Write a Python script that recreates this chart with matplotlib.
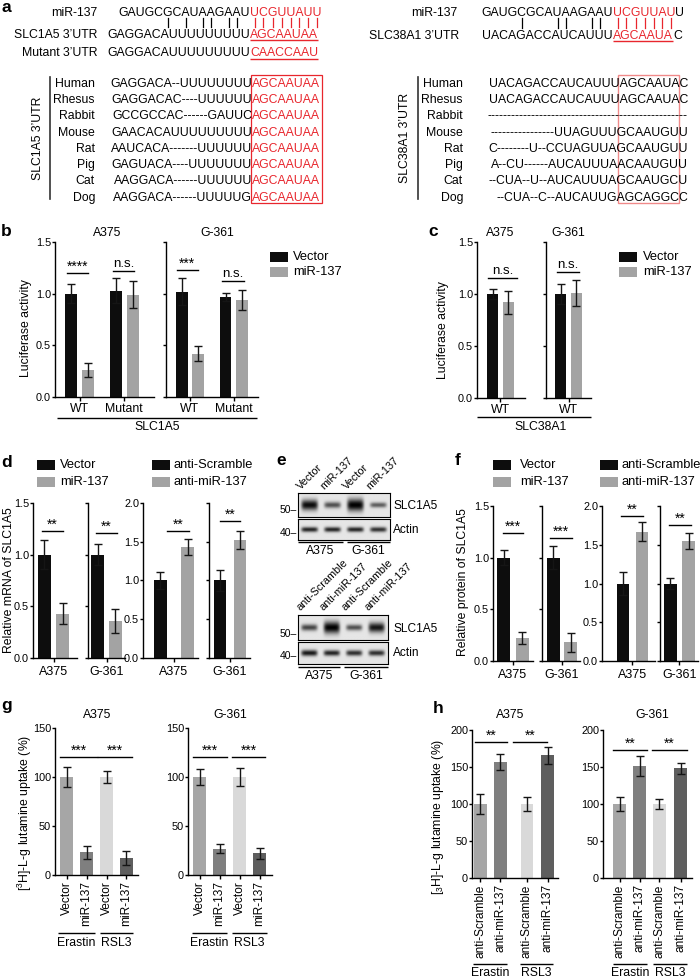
import numpy as np
import matplotlib
matplotlib.use('Agg')
import matplotlib.pyplot as plt
from matplotlib.font_manager import FontProperties
from matplotlib.patches import Rectangle

plt.rcParams['font.family'] = ['Liberation Sans', 'DejaVu Sans']
plt.rcParams['mathtext.default'] = 'regular'
plt.rcParams['axes.linewidth'] = 1.0
plt.rcParams['xtick.major.width'] = 1.0
plt.rcParams['ytick.major.width'] = 1.0
plt.rcParams['xtick.major.size'] = 3
plt.rcParams['ytick.major.size'] = 2
plt.rcParams['xtick.major.pad'] = 1.5
plt.rcParams['ytick.major.pad'] = 0.8

BLACK = '#0d0d0d'
GRAY = '#a3a3a3'
RED = '#e8262d'
BOX2 = '#f08a8a'
G_COLORS = ['#a6a6a6', '#7f7f7f', '#d9d9d9', '#5e5e5e']

# ---------------- data ----------------
# a: sequences
mir_5p = 'GAUGCGCAUAAGAAU'
mir_seed_1a5 = 'UCGUUAUU'
utr_1a5 = 'GAGGACAUUUUUUUUU'
site_1a5 = 'AGCAAUAA'
utr_mut = 'GAGGACAUUUUUUUUU'
site_mut = 'CAACCAAU'
pair_idx_1a5 = [5, 7, 9, 10, 12, 13]
mir_seed_38a1 = 'UCGUUAU'
mir_tail_38a1 = 'U'
utr_38a1 = 'UACAGACCAUCAUUU'
site_38a1 = 'AGCAAUA'
tail_38a1 = 'C'
pair_idx_38a1 = [4, 8, 9, 12, 13]
species = ['Human', 'Rhesus', 'Rabbit', 'Mouse', 'Rat', 'Pig', 'Cat', 'Dog']
align_1a5 = ['GAGGACA--UUUUUUUU', 'GAGGACAC----UUUUUU', 'GCCGCCAC------GAUUC',
             'GAACACAUUUUUUUUU', 'AAUCACA-------UUUUUU', 'GAGUACA----UUUUUUU',
             'AAGGACA------UUUUUU', 'AAGGACA------UUUUUG']
align_38a1 = ['UACAGACCAUCAUUUAGCAAUAC', 'UACAGACCAUCAUUUAGCAAUAC', '-' * 50,
              '----------------UUAGUUUGCAAUGUU', 'C--------U--CCUAGUUAGCAAUGUU',
              'A--CU------AUCAUUUAACAAUGUU', '--CUA--U--AUCAUUUAGCAAUGCU',
              '--CUA--C--AUCAUUGAGCAGGCC']

# b: luciferase, SLC1A5 3'UTR
b_groups = ['WT', 'Mutant']
b_a375_vec = [1.00, 1.03]
b_a375_vec_err = [0.09, 0.12]
b_a375_mir = [0.26, 0.99]
b_a375_mir_err = [0.07, 0.13]
b_g361_vec = [1.02, 0.97]
b_g361_vec_err = [0.13, 0.04]
b_g361_mir = [0.42, 0.94]
b_g361_mir_err = [0.07, 0.10]

# c: luciferase, SLC38A1 3'UTR
c_groups = ['WT']
c_a375_vec, c_a375_vec_err = [1.00], [0.045]
c_a375_mir, c_a375_mir_err = [0.92], [0.11]
c_g361_vec, c_g361_vec_err = [1.00], [0.10]
c_g361_mir, c_g361_mir_err = [1.01], [0.125]

# d: mRNA
cells = ['A375', 'G-361']
d_vec, d_vec_err = [1.0, 1.0], [0.14, 0.10]
d_mir, d_mir_err = [0.43, 0.36], [0.10, 0.115]
d_scr, d_scr_err = [1.0, 1.0], [0.11, 0.13]
d_anti, d_anti_err = [1.43, 1.52], [0.105, 0.115]

# e: western blots (band intensity, band thickness)
e_lanes_top = ['Vector', 'miR-137', 'Vector', 'miR-137']
e_lanes_bot = ['anti-Scramble', 'anti-miR-137', 'anti-Scramble', 'anti-miR-137']
e_top_slc = [0.95, 0.65, 1.0, 0.6]
e_top_slc_w = [0.22, 0.13, 0.26, 0.11]
e_top_act = [0.85, 0.85, 0.85, 0.8]
e_top_act_w = [0.12, 0.12, 0.12, 0.12]
e_bot_slc = [0.7, 1.0, 0.65, 0.9]
e_bot_slc_w = [0.13, 0.24, 0.12, 0.2]
e_bot_act = [0.9, 0.85, 0.8, 0.8]
e_bot_act_w = [0.14, 0.13, 0.13, 0.13]

# f: protein
f_vec, f_vec_err = [1.0, 1.0], [0.075, 0.11]
f_mir, f_mir_err = [0.22, 0.18], [0.06, 0.09]
f_scr, f_scr_err = [1.0, 1.0], [0.15, 0.07]
f_anti, f_anti_err = [1.67, 1.55], [0.12, 0.10]

# g / h: glutamine uptake
treatments = ['Erastin', 'RSL3']
g_labels = ['Vector', 'miR-137', 'Vector', 'miR-137']
g_a375, g_a375_err = [100, 23, 100, 17.5], [10, 7, 6, 7]
g_g361, g_g361_err = [100, 27, 100, 22], [8, 5, 9.5, 6]
h_labels = ['anti-Scramble', 'anti-miR-137', 'anti-Scramble', 'anti-miR-137']
h_a375, h_a375_err = [100, 157, 100, 166], [13, 10.5, 10, 11.5]
h_g361, h_g361_err = [100, 151, 100, 148], [10, 13.5, 7, 8]

# ---------------- figure ----------------
W, H = 700, 980
fig = plt.figure(figsize=(W / 100, H / 100), dpi=100)


def px_axes(x0, y0, x1, y1):
    return fig.add_axes([x0 / W, 1 - y1 / H, (x1 - x0) / W, (y1 - y0) / H])


def style(ax, ylim, yticks, fmt, labels=True):
    ax.spines[['top', 'right']].set_visible(False)
    ax.set_ylim(*ylim)
    ax.set_yticks(yticks)
    ax.set_yticklabels([fmt.format(t) for t in yticks] if labels else [], fontsize=7.8)
    ax.patch.set_alpha(0)


def bars(ax, x, vals, errs, color, width):
    ax.bar(x, vals, width=width, color=color, edgecolor='none')
    ax.errorbar(x, vals, yerr=errs, fmt='none', ecolor='#151515',
                elinewidth=1, capsize=3, capthick=1)


def sig(ax, x0, x1, y, s):
    fs = 9.5 if s == 'n.s.' else 10
    dy = 1 if s == 'n.s.' else -0.5
    ax.plot([x0, x1], [y, y], color='k', lw=1, clip_on=False)
    ax.annotate(s, ((x0 + x1) / 2, y), xytext=(0, dy), textcoords='offset points',
                ha='center', va='bottom', fontsize=fs, annotation_clip=False)


def pair_axes(box, ylim, yticks, fmt, vals1, err1, vals2, err2, c2, xlim,
              off, width, tick_labels, show_y=True, tickfs=8.8, pad=1.5):
    ax = px_axes(*box)
    style(ax, ylim, yticks, fmt, show_y)
    x = np.arange(len(vals1))
    bars(ax, x - off, vals1, err1, BLACK, width)
    bars(ax, x + off, vals2, err2, c2, width)
    ax.set_xlim(*xlim)
    ax.set_xticks(x)
    ax.set_xticklabels(tick_labels, fontsize=tickfs)
    ax.tick_params(axis='x', pad=pad)
    return ax


def quad_axes(box, ylim, yticks, vals, errs, pos, xlim, labels):
    ax = px_axes(*box)
    style(ax, ylim, yticks, '{:.0f}')
    ax.bar(pos, vals, width=0.64, color=G_COLORS, edgecolor='none')
    ax.errorbar(pos, vals, yerr=errs, fmt='none', ecolor='#151515',
                elinewidth=1, capsize=3, capthick=1)
    ax.set_xlim(*xlim)
    ax.set_xticks(pos)
    ax.set_xticklabels(labels, rotation=90, fontsize=8.6)
    ax.tick_params(axis='x', pad=1.5)
    return ax


def blot(box, levels, widths):
    ax = px_axes(*box)
    n = len(levels)
    xs = np.linspace(0, n, 240)
    ys = np.linspace(-0.5, 0.5, 60)[:, None]
    img = np.full((60, 240), 0.9)
    for i, (a, w) in enumerate(zip(levels, widths)):
        px = np.exp(-((xs - (i + 0.5)) / 0.36) ** 6)
        py = np.exp(-(ys / w) ** 2)
        img = img - 0.9 * a * px * py
    ax.imshow(np.clip(img, 0, 1), cmap='gray', vmin=0, vmax=1, aspect='auto',
              extent=(0, n, 0, 1), interpolation='bilinear')
    ax.set_xticks([])
    ax.set_yticks([])
    for s in ax.spines.values():
        s.set_linewidth(0.8)
    return ax


# ---- b ----
ax = pair_axes((55, 242, 154, 397), (0, 1.5), [0, 0.5, 1.0, 1.5], '{:.1f}',
               b_a375_vec, b_a375_vec_err, b_a375_mir, b_a375_mir_err, GRAY,
               (-0.55, 1.67), 0.19, 0.27, b_groups)
sig(ax, -0.28, 0.19, 1.2, '****')
sig(ax, 0.75, 1.22, 1.22, 'n.s.')
ax = pair_axes((166, 242, 258, 397), (0, 1.5), [0, 0.5, 1.0, 1.5], '{:.1f}',
               b_g361_vec, b_g361_vec_err, b_g361_mir, b_g361_mir_err, GRAY,
               (-0.545, 1.55), 0.19, 0.27, b_groups, show_y=False)
sig(ax, -0.3, 0.18, 1.23, '***')
sig(ax, 0.73, 1.23, 1.12, 'n.s.')

# ---- c ----
ax = pair_axes((477, 242, 525, 398), (0, 1.5), [0, 0.5, 1.0, 1.5], '{:.1f}',
               c_a375_vec, c_a375_vec_err, c_a375_mir, c_a375_mir_err, GRAY,
               (-0.534, 0.557), 0.18, 0.25, c_groups)
sig(ax, -0.28, 0.37, 1.15, 'n.s.')
ax = pair_axes((546, 242, 591, 398), (0, 1.5), [0, 0.5, 1.0, 1.5], '{:.1f}',
               c_g361_vec, c_g361_vec_err, c_g361_mir, c_g361_mir_err, GRAY,
               (-0.51, 0.51), 0.18, 0.25, c_groups, show_y=False)
sig(ax, -0.26, 0.24, 1.21, 'n.s.')

# ---- d ----
d_boxes = [(33, 503, 77, 658), (88, 503, 125, 658), (143, 503, 198, 658), (209, 503, 250, 658)]
d_xlims = [(-0.466, 0.534), (-0.42, 0.42), (-0.705, 0.545), (-0.48, 0.455)]
d_offs = [0.205, 0.2, 0.31, 0.23]
d_sigs = [(-0.26, 0.216, 1.23), (-0.24, 0.24, 1.21), (-0.16, 0.34, 1.64), (-0.23, 0.23, 1.77)]
for i in range(4):
    if i < 2:
        ylim, yt = (0, 1.5), [0, 0.5, 1.0, 1.5]
        v1, e1, v2, e2 = [d_vec[i]], [d_vec_err[i]], [d_mir[i]], [d_mir_err[i]]
    else:
        ylim, yt = (0, 2.0), [0, 0.5, 1.0, 1.5, 2.0]
        j = i - 2
        v1, e1, v2, e2 = [d_scr[j]], [d_scr_err[j]], [d_anti[j]], [d_anti_err[j]]
    ax = pair_axes(d_boxes[i], ylim, yt, '{:.1f}', v1, e1, v2, e2, GRAY,
                   d_xlims[i], d_offs[i], 0.29, [cells[i % 2]],
                   show_y=(i % 2 == 0), tickfs=9, pad=3)
    sig(ax, d_sigs[i][0], d_sigs[i][1], d_sigs[i][2], '**')

# ---- f ----
f_boxes = [(493, 506, 533, 661), (542, 506, 580, 661), (602, 506, 655, 661), (660, 506, 698, 661)]
f_xlims = [(-0.455, 0.455), (-0.455, 0.41), (-0.69, 0.51), (-0.44, 0.42)]
f_offs = [0.216, 0.2, 0.216, 0.205]
f_sigs = [(-0.23, 0.23, 1.24, '***'), (-0.27, 0.23, 1.19, '***'),
          (-0.26, 0.24, 1.87, '**'), (-0.24, 0.26, 1.75, '**')]
for i in range(4):
    if i < 2:
        ylim, yt = (0, 1.5), [0, 0.5, 1.0, 1.5]
        v1, e1, v2, e2 = [f_vec[i]], [f_vec_err[i]], [f_mir[i]], [f_mir_err[i]]
    else:
        ylim, yt = (0, 2.0), [0, 0.5, 1.0, 1.5, 2.0]
        j = i - 2
        v1, e1, v2, e2 = [f_scr[j]], [f_scr_err[j]], [f_anti[j]], [f_anti_err[j]]
    ax = pair_axes(f_boxes[i], ylim, yt, '{:.1f}', v1, e1, v2, e2, GRAY,
                   f_xlims[i], f_offs[i], 0.29, [cells[i % 2]],
                   show_y=(i % 2 == 0), tickfs=9, pad=3)
    sig(ax, f_sigs[i][0], f_sigs[i][1], f_sigs[i][2], f_sigs[i][3])

# ---- g ----
ax = quad_axes((55, 728, 138, 875), (0, 150), [0, 50, 100, 150], g_a375, g_a375_err,
               [0, 1, 2, 3], (-0.575, 3.575), g_labels)
sig(ax, -0.325, 1.525, 120, '***')
sig(ax, 1.575, 3.275, 120, '***')
ax = quad_axes((188, 728, 272, 875), (0, 150), [0, 50, 100, 150], g_g361, g_g361_err,
               [0, 1, 2, 3], (-0.575, 3.625), g_labels)
sig(ax, -0.325, 1.375, 120, '***')
sig(ax, 1.625, 3.275, 120, '***')

# ---- h ----
ax = quad_axes((472, 730, 558, 878), (0, 200), [0, 50, 100, 150, 200], h_a375, h_a375_err,
               [0, 1, 2.33, 3.37], (-0.415, 3.885), h_labels)
sig(ax, -0.265, 1.335, 184, '**')
sig(ax, 1.635, 3.335, 184, '**')
ax = quad_axes((603, 730, 692, 878), (0, 200), [0, 50, 100, 150, 200], h_g361, h_g361_err,
               [0, 1, 1.98, 3.05], (-0.835, 3.615), h_labels)
sig(ax, -0.335, 1.365, 173, '**')
sig(ax, 1.615, 3.365, 173, '**')

# ---- e blots ----
blot((298, 493, 390, 517), e_top_slc, e_top_slc_w)
blot((298, 519, 390, 540), e_top_act, e_top_act_w)
blot((298, 615, 388, 640), e_bot_slc, e_bot_slc_w)
blot((298, 642, 388, 664), e_bot_act, e_bot_act_w)

# ---------------- overlay in pixel coordinates ----------------
ov = fig.add_axes([0, 0, 1, 1], zorder=10)
ov.set_xlim(0, W)
ov.set_ylim(H, 0)
ov.axis('off')


def txt(x, y, s, fs=8.8, ha='center', va='center', **kw):
    ov.text(x, y, s, fontsize=fs, ha=ha, va=va, **kw)


def hline(x0, x1, y, color='k', lw=1.0):
    ov.plot([x0, x1], [y, y], color=color, lw=lw, solid_capstyle='butt')


for lab, x, y in [('a', 1, 7), ('b', 1, 231), ('c', 428, 231), ('d', 1, 462),
                  ('e', 276, 460), ('f', 455, 460), ('g', 1, 705), ('h', 433, 708)]:
    txt(x, y, lab, fs=12.5, ha='left', weight='bold')

# panel a
fs_seq = 8.8
prop = FontProperties(family='Liberation Sans', size=fs_seq)
rend = fig.canvas.get_renderer()


def tw(s):
    if not s:
        return 0.0
    return rend.get_text_width_height_descent(s, prop, ismath=False)[0]


def seq(x, y, s, color='k', ha='left'):
    ov.text(x, y, s, fontsize=fs_seq, color=color, ha=ha, va='baseline')


def pair_bars(xr, black, red, idx, y0, y1):
    for k in idx:
        xc = xr - tw(black[k:]) + tw(black[k]) / 2
        ov.plot([xc, xc], [y0, y1], color='k', lw=0.9)
    for k in range(len(red)):
        xc = xr + tw(red[:k]) + tw(red[k]) / 2
        ov.plot([xc, xc], [y0, y1], color=RED, lw=0.9)


xr = 250
seq(97, 16.5, 'miR-137', ha='right')
seq(xr, 16.5, mir_5p, ha='right')
seq(xr, 16.5, mir_seed_1a5, RED)
pair_bars(xr, mir_5p, mir_seed_1a5, pair_idx_1a5, 18.5, 27.5)
seq(97, 37.5, 'SLC1A5 3\u2019UTR', ha='right')
seq(xr, 37.5, utr_1a5, ha='right')
seq(xr, 37.5, site_1a5, RED)
hline(xr, xr + tw(site_1a5), 39.8, RED)
seq(97, 56.5, 'Mutant 3\u2019UTR', ha='right')
seq(xr, 56.5, utr_mut, ha='right')
seq(xr, 56.5, site_mut, RED)
hline(xr, xr + tw(site_mut), 58.8, RED)

row0, drow = 86.7, 16.3
xb = 252
for i, (sp, s) in enumerate(zip(species, align_1a5)):
    yb = row0 + i * drow
    seq(95, yb, sp, ha='right')
    seq(xb, yb, s, ha='right')
    seq(xb, yb, site_1a5, RED)
ov.add_patch(Rectangle((xb - 1, 75), tw(site_1a5) + 3, 128, fill=False, ec=RED, lw=0.9))
ov.plot([50, 50], [77, 199], color='#333333', lw=1.2)
txt(38, 138, 'SLC1A5 3\u2019UTR', rotation=90)

xr2 = 613
seq(457, 16.5, 'miR-137', ha='right')
seq(xr2, 16.5, mir_5p, ha='right')
seq(xr2, 16.5, mir_seed_38a1, RED)
seq(xr2 + tw(mir_seed_38a1), 16.5, mir_tail_38a1)
pair_bars(xr2, mir_5p, mir_seed_38a1, pair_idx_38a1, 18.5, 28)
seq(459, 39.2, 'SLC38A1 3\u2019UTR', ha='right')
seq(xr2, 39.2, utr_38a1, ha='right')
seq(xr2, 39.2, site_38a1, RED)
seq(xr2 + tw(site_38a1), 39.2, tail_38a1)
hline(xr2, xr2 + tw(site_38a1), 41.5, RED)

for i, (sp, s) in enumerate(zip(species, align_38a1)):
    yb = row0 + i * drow
    seq(463, yb, sp, ha='right')
    seq(688, yb, s, ha='right')
ov.add_patch(Rectangle((618, 75), 61, 128, fill=False, ec=BOX2, lw=1.0))
ov.plot([418, 418], [77, 199], color='#333333', lw=1.2)
txt(405, 138, 'SLC38A1 3\u2019UTR', rotation=90)

# titles
for x, y, s in [(107, 233, 'A375'), (217, 233, 'G-361'), (500, 233, 'A375'), (568, 233, 'G-361'),
                (97, 715, 'A375'), (230, 715, 'G-361'), (510, 715, 'A375'), (652, 715, 'G-361')]:
    txt(x, y, s)

# y labels
txt(26, 328, 'Luciferase activity', rotation=90)
txt(443, 330, 'Luciferase activity', rotation=90)
txt(9, 580, 'Relative mRNA of SLC1A5', rotation=90)
txt(463, 582, 'Relative protein of SLC1A5', rotation=90)
txt(25, 813, '[$^{3}$H]-L-g lutamine uptake (%)', rotation=90)
txt(438, 817, '[$_{3}$H]-L-g lutamine uptake (%)', rotation=90)

# legends
def legend_px(x, tx, ys, labels, colors):
    for y, lab, c in zip(ys, labels, colors):
        ov.add_patch(Rectangle((x, y - 5), 18, 10, color=c, lw=0))
        txt(tx, y, lab, fs=9.3, ha='left')


legend_px(270, 293, [256.5, 272], ['Vector', 'miR-137'], [BLACK, GRAY])
legend_px(619, 643, [256.5, 272], ['Vector', 'miR-137'], [BLACK, GRAY])
legend_px(37, 60, [465, 482], ['Vector', 'miR-137'], [BLACK, GRAY])
legend_px(152, 173, [465, 482], ['anti-Scramble', 'anti-miR-137'], [BLACK, GRAY])
legend_px(493, 520, [465, 482], ['Vector', 'miR-137'], [BLACK, GRAY])
legend_px(600, 622, [465, 482], ['anti-Scramble', 'anti-miR-137'], [BLACK, GRAY])

# group underlines b / c
hline(57, 257, 418)
txt(157, 427, 'SLC1A5')
hline(477, 591, 417)
txt(541, 427, 'SLC38A1')

# e annotations
for yb, lanes, x0, x1 in [(491, e_lanes_top, 298, 390), (612, e_lanes_bot, 298, 388)]:
    step = (x1 - x0) / len(lanes)
    for i, lab in enumerate(lanes):
        ov.text(x0 + step * (i + 0.5) - 7, yb, lab, fontsize=7.8, rotation=45,
                rotation_mode='anchor', ha='left', va='bottom')
for y, s in [(510, '50\u2013'), (533, '40\u2013'), (634, '50\u2013'), (656, '40\u2013')]:
    txt(297, y, s, fs=7.5, ha='right')
for y, s in [(506, 'SLC1A5'), (530, 'Actin'), (629, 'SLC1A5'), (653, 'Actin')]:
    txt(393, y, s, fs=8.6, ha='left')
hline(298, 343, 542)
hline(347, 390, 542)
txt(320, 551, 'A375')
txt(368, 551, 'G-361')
hline(298, 340, 667)
hline(344, 388, 667)
txt(319, 676, 'A375')
txt(366, 676, 'G-361')

# g / h treatment underlines
for (a0, a1, b0, b1, y, ly) in [(58, 95, 100, 133, 933, 943), (192, 227, 232, 267, 933, 943),
                                (473, 507, 520, 553, 964, 973), (613, 647, 653, 687, 964, 973)]:
    hline(a0, a1, y)
    hline(b0, b1, y)
    txt((a0 + a1) / 2, ly, treatments[0])
    txt((b0 + b1) / 2, ly, treatments[1])

fig.savefig('out.png', dpi=100)
